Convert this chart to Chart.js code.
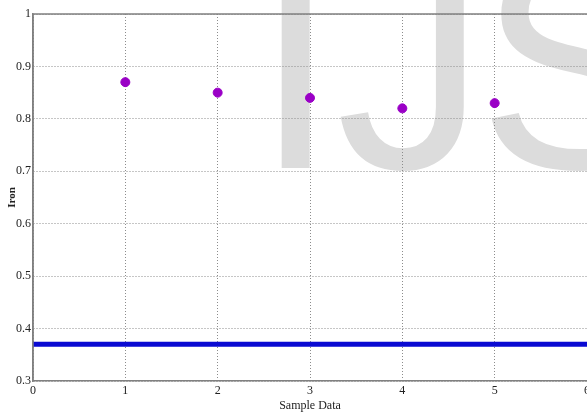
<!DOCTYPE html>
<html>
<head>
<meta charset="utf-8">
<script src="https://cdn.jsdelivr.net/npm/chart.js@4/dist/chart.umd.min.js"></script>
<style>
  html, body { margin: 0; padding: 0; background: #fff; }
  #wrap { width: 587px; height: 413px; }
</style>
</head>
<body>
<div id="wrap"><canvas id="ironChart" width="587" height="413"></canvas></div>
<script>
// sample numbers and their iron values
var samples = [1, 2, 3, 4, 5];
var ironValues = [0.87, 0.85, 0.84, 0.82, 0.83];
// reference level drawn across the whole axis
var limitX = [0, 6];
var limitValue = 0.37;
var xTicks = [0, 1, 2, 3, 4, 5, 6];
var yTicks = [0.3, 0.4, 0.5, 0.6, 0.7, 0.8, 0.9, 1];

var serif = "'Liberation Serif', 'Times New Roman', serif";

// big grey watermark behind the plot
var watermark = {
  id: "watermark",
  beforeDraw: function (chart) {
    var ctx = chart.ctx;
    ctx.save();
    ctx.fillStyle = "#dcdcdc";
    ctx.font = "300px 'Liberation Sans', Arial, sans-serif";
    ctx.textBaseline = "alphabetic";
    ctx.fillText("I", 254, 168);
    ctx.fillText("J", 336, 168);
    ctx.fillText("S", 478, 168);
    ctx.restore();
  },
  afterDatasetsDraw: function (chart) {
    // solid frame on top and left like the original plot box
    var a = chart.chartArea;
    var ctx = chart.ctx;
    ctx.save();
    ctx.strokeStyle = "#808080";
    ctx.lineWidth = 1.5;
    ctx.beginPath();
    ctx.moveTo(a.left, a.bottom);
    ctx.lineTo(a.left, a.top);
    ctx.lineTo(a.right, a.top);
    ctx.stroke();
    ctx.restore();
  },
};

var ctx = document.getElementById("ironChart").getContext("2d");
var ironChart = new Chart(ctx, {
  type: "scatter",
  data: {
    datasets: [
      {
        label: "Iron",
        data: samples.map(function (s, i) {
          return { x: s, y: ironValues[i] };
        }),
        backgroundColor: "#9a00c6",
        borderColor: "#9a00c6",
        pointRadius: 4.5,
        pointHoverRadius: 4.5,
      },
      {
        label: "Limit",
        type: "line",
        data: limitX.map(function (x) {
          return { x: x, y: limitValue };
        }),
        borderColor: "#0a0ad2",
        borderWidth: 5,
        pointRadius: 0,
        fill: false,
      },
    ],
  },
  options: {
    responsive: false,
    animation: false,
    layout: { autoPadding: false, padding: { top: 14, right: 0, left: 0, bottom: 0 } },
    plugins: {
      legend: { display: false },
      tooltip: { enabled: false },
    },
    scales: {
      x: {
        type: "linear",
        min: 0,
        max: 6,
        afterBuildTicks: function (s) {
          s.ticks = xTicks.map(function (v) { return { value: v }; });
        },
        afterFit: function (s) {
          s.height = 32;
          s.paddingLeft = 0;
          s.paddingRight = 0;
        },
        grid: { color: "#8c8c8c", lineWidth: 1, drawTicks: false },
        border: { display: true, color: "#808080", width: 1.5, dash: [1, 2] },
        ticks: {
          padding: 3,
          color: "#222",
          font: { family: serif, size: 12 },
          maxRotation: 0,
        },
        title: {
          display: true,
          text: "Sample Data",
          color: "#222",
          font: { family: serif, size: 12 },
          padding: { top: 0, bottom: 0 },
        },
      },
      y: {
        min: 0.3,
        max: 1,
        afterBuildTicks: function (s) {
          s.ticks = yTicks.map(function (v) { return { value: v }; });
        },
        afterFit: function (s) {
          s.width = 33;
          s.paddingTop = 0;
          s.paddingBottom = 0;
        },
        grid: { color: "#8c8c8c", lineWidth: 1, drawTicks: false },
        border: { display: true, color: "#808080", width: 1.5, dash: [1, 2] },
        ticks: {
          padding: 2,
          color: "#222",
          font: { family: serif, size: 12 },
          callback: function (v) {
            return Math.round(v * 10) / 10;
          },
        },
        title: {
          display: true,
          text: "Iron",
          color: "#222",
          font: { family: serif, size: 11, weight: "bold" },
          padding: { top: 6, bottom: 0 },
        },
      },
    },
  },
  plugins: [watermark],
});
</script>
</body>
</html>
